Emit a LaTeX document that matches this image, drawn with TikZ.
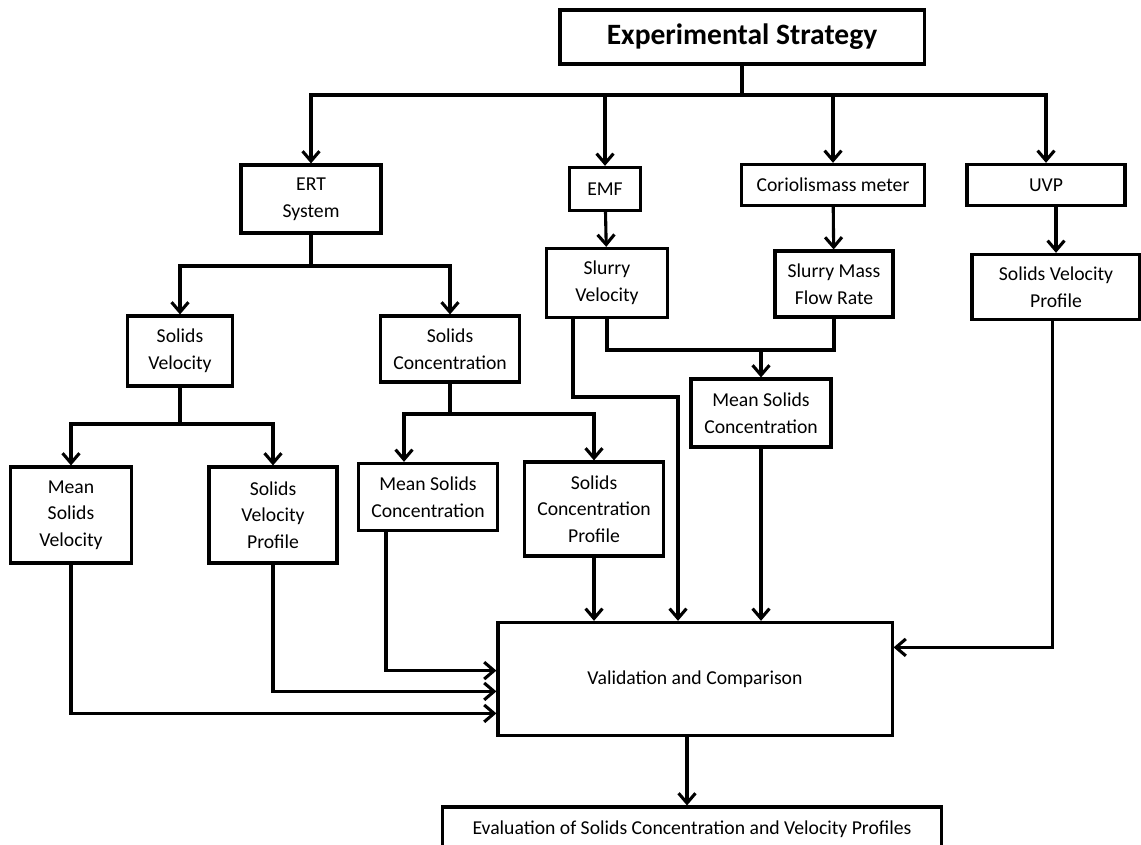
\documentclass[tikz,border=0pt]{standalone}
\usepackage{fontspec}
\setmainfont{Carlito}
\usepackage{tikz}
\usetikzlibrary{arrows.meta,positioning,calc}
\tikzset{
  blk/.style={draw,line width=2.2pt,align=center,inner sep=1pt,
              font=\fontsize{14}{19}\selectfont},
  head/.style={blk,font=\fontsize{21}{24}\selectfont\bfseries},
  ln/.style={line width=2.2pt},
  arr/.style={line width=2.2pt,-{Straight Barb[length=7pt,width=12pt,line width=2.2pt]}},
}
\begin{document}
\begin{tikzpicture}[x=0.025cm,y=-0.025cm]
  \useasboundingbox (0,0) rectangle (1141,845);
  \clip (0,0) rectangle (1141,845);
  %% Top
  \node[head,minimum width=9.1cm,minimum height=1.35cm]   (strat)   at (742,37)  {Experimental Strategy};
  %% Instruments
  \node[blk,minimum width=3.5cm,minimum height=1.7cm]     (ert)     at (311,199) {ERT\\System};
  \node[blk,minimum width=1.78cm,minimum height=1.08cm]   (emf)     at (605,189) {EMF};
  \node[blk,minimum width=4.58cm,minimum height=1.03cm]   (cor)     at (833,185) {Coriolismass meter};
  \node[blk,minimum width=3.95cm,minimum height=1.03cm]   (uvp)     at (1046,185) {UVP};
  %% Row 2
  \node[blk,minimum width=3.03cm,minimum height=1.73cm]   (slvel)   at (607,283) {Slurry\\Velocity};
  \node[blk,minimum width=2.95cm,minimum height=1.65cm]   (slmass)  at (834,284) {Slurry Mass\\Flow Rate};
  \node[blk,minimum width=4.2cm,minimum height=1.63cm]    (uvpprof) at (1056,287) {Solids Velocity\\Profile};
  \node[blk,minimum width=2.63cm,minimum height=1.75cm]   (solvel)  at (180,351) {Solids\\Velocity};
  \node[blk,minimum width=3.48cm,minimum height=1.65cm]   (solcon)  at (450,349) {Solids\\Concentration};
  \node[blk,minimum width=3.5cm,minimum height=1.7cm]     (msc2)    at (761,413) {Mean Solids\\Concentration};
  %% Row 3
  \node[blk,minimum width=3.03cm,minimum height=2.4cm]    (msv)     at (71,515)  {Mean\\Solids\\Velocity};
  \node[blk,minimum width=3.2cm,minimum height=2.4cm]     (svp)     at (273,515) {Solids\\Velocity\\Profile};
  \node[blk,minimum width=3.48cm,minimum height=1.68cm]   (msc1)    at (428,497) {Mean Solids\\Concentration};
  \node[blk,minimum width=3.48cm,minimum height=2.35cm]   (scp)     at (594,509) {Solids\\Concentration\\Profile};
  %% Bottom
  \node[blk,minimum width=9.85cm,minimum height=2.83cm]   (val)     at (695,679) {Validation and Comparison};
  \node[blk,minimum width=12.48cm,minimum height=1.1cm]   (eval)    at (692,829) {Evaluation of Solids Concentration and Velocity Profiles};

  %% Edges
  \coordinate (tj) at (742,95);
  \draw[ln](strat)--(tj);
  \draw[ln](313,95)--(1046,95);
  \draw[arr](tj)-|(ert);
  \draw[arr](tj)-|(emf);
  \draw[arr](tj)-|(cor);
  \draw[arr](tj)-|(uvp);
  \draw[arr](emf)--(slvel);
  \draw[arr](cor)--(slmass);
  \draw[arr](uvp.south -| uvpprof.north)--(uvpprof.north);
  % ERT branch
  \coordinate (ej) at (311,266);
  \draw[ln](ert)--(ej);
  \draw[arr](ej)-|(solvel);
  \draw[arr](ej)-|(solcon);
  \coordinate (vj) at (180,424);
  \draw[ln](solvel)--(vj);
  \draw[arr](vj)-|(msv);
  \draw[arr](vj)-|(svp);
  \coordinate (cj) at (450,414);
  \draw[ln](solcon)--(cj);
  \draw[arr](cj)-|([xshift=-0.6cm]msc1.north);
  \draw[arr](cj)-|(scp);
  % flow meters
  \coordinate (mj) at (761,350);
  \draw[ln](slvel.south)|-(mj)-|(slmass.south);
  \draw[arr](mj)--(msc2);
  \coordinate (sb) at (678,397);
  \draw[arr]([xshift=-0.85cm]slvel.south)|-(sb)--(sb |- val.north);
  % into validation
  \draw[arr](msc2.south)--(msc2.south |- val.north);
  \draw[arr](scp.south)--(scp.south |- val.north);
  \draw[arr]([xshift=-1.05cm]msc1.south)|-([yshift=0.21cm]val.west);
  \draw[arr](svp.south)|-([yshift=-0.31cm]val.west);
  \draw[arr](msv.south)|-([yshift=-0.86cm]val.west);
  \draw[arr]([xshift=-0.08cm]uvpprof.south)|-([yshift=0.79cm]val.east);
  \draw[arr]([xshift=-0.2cm]val.south)--([xshift=-0.2cm]val.south |- eval.north);
\end{tikzpicture}
\end{document}
